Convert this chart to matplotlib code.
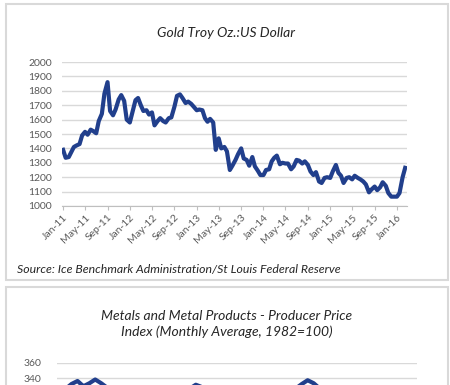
import matplotlib
matplotlib.use("Agg")
import matplotlib.pyplot as plt
import pandas as pd
from matplotlib.patches import Rectangle

plt.rcParams["font.family"] = ["Lato", "DejaVu Sans"]

# Gold price, semi-monthly readings (1st and 15th), Jan 2011 - Feb 2016
gold_dates = pd.date_range("2011-01-01", "2016-02-15", freq="SMS")
gold_values = [
    1390, 1335, 1340, 1375, 1410, 1420, 1430, 1490, 1515, 1495, 1530, 1520,
    1505, 1590, 1640, 1780, 1860, 1660, 1630, 1670, 1740, 1770, 1730, 1600,
    1580, 1650, 1735, 1750, 1700, 1660, 1665, 1635, 1650, 1560, 1590, 1610,
    1590, 1580, 1610, 1615, 1690, 1765, 1775, 1750, 1715, 1725, 1710, 1690,
    1665, 1670, 1665, 1610, 1585, 1605, 1580, 1390, 1470, 1400, 1410, 1380,
    1250, 1280, 1320, 1360, 1400, 1330, 1320, 1280, 1340, 1275, 1245, 1215,
    1215, 1250, 1255, 1310, 1335, 1350, 1290, 1300, 1295, 1295, 1255, 1275,
    1320, 1315, 1295, 1310, 1285, 1240, 1215, 1235, 1170, 1160, 1195, 1200,
    1195, 1240, 1285, 1230, 1210, 1160, 1195, 1200, 1185, 1210, 1195, 1185,
    1170, 1150, 1095, 1115, 1135, 1110, 1130, 1165, 1140, 1090, 1065, 1065,
    1065, 1090, 1200, 1265,
]
gold_tick_dates = pd.date_range("2011-01-01", "2016-01-01", freq="4MS")
gold_tick_labels = [d.strftime("%b-%y") for d in gold_tick_dates]
gold_yticks = list(range(1000, 2001, 100))

# Metals and metal products PPI, monthly, Jan 2011 - Jan 2016 (only the top is visible)
ppi_dates = pd.date_range("2011-01-01", "2016-01-01", freq="MS")
ppi_values = [
    318, 326, 332, 336, 329, 333, 338, 333, 327, 318, 314, 312,
    318, 322, 324, 322, 318, 312, 310, 312, 320, 324, 326, 331,
    328, 326, 320, 314, 310, 309, 306, 310, 308, 307, 305, 306,
    310, 314, 318, 322, 326, 332, 337, 333, 326, 320, 316, 310,
    302, 296, 292, 290, 292, 288, 284, 280, 276, 274, 270, 266,
    266,
]
ppi_yticks = [340, 360]  # the lower ticks fall below the cut

line_color = "#213f8c"
grid_color = "#d9d9d9"
label_color = "#595959"
text_color = "#262626"

fig = plt.figure(figsize=(4.5, 3.85), dpi=100)

# panel frames
fig.patches.append(Rectangle((6 / 450, 1 - 280 / 385), 442 / 450, 276 / 385,
                             transform=fig.transFigure, fill=False,
                             edgecolor=grid_color, lw=1.5))
fig.patches.append(Rectangle((6 / 450, -0.2), 442 / 450, 0.2 + 1 - 287 / 385,
                             transform=fig.transFigure, fill=False,
                             edgecolor=grid_color, lw=1.5))

# --- gold chart ---
ax = fig.add_axes([62 / 450, 1 - 206 / 385, 345 / 450, 144 / 385])
ax.plot(gold_dates, gold_values, color=line_color, lw=3, solid_joinstyle="round")
ax.set_ylim(1000, 2000)
ax.set_yticks(gold_yticks)
ax.set_xlim(pd.Timestamp("2010-12-26"), pd.Timestamp("2016-02-25"))
ax.set_xticks(gold_tick_dates)
ax.set_xticklabels(gold_tick_labels, rotation=45, ha="right", va="top",
                   rotation_mode="anchor")
ax.grid(axis="y", color=grid_color, lw=1)
ax.set_axisbelow(True)
for s in ["top", "right", "left"]:
    ax.spines[s].set_visible(False)
ax.spines["bottom"].set_color("#bfbfbf")
ax.tick_params(axis="y", length=0, pad=7, labelsize=7.5, labelcolor=label_color)
ax.tick_params(axis="x", length=3, color="#bfbfbf", pad=2, labelsize=7.5,
               labelcolor=label_color)
fig.text(226 / 450, 1 - 33 / 385, "Gold Troy Oz.:US Dollar", ha="center", va="center",
         fontsize=10, style="italic", color=text_color)
fig.text(17 / 450, 1 - 270 / 385,
         "Source: Ice Benchmark Administration/St Louis Federal Reserve",
         ha="left", va="center", fontsize=8.8, style="italic", color=text_color)

# --- PPI chart (cut off by the bottom edge) ---
ax2 = fig.add_axes([57 / 450, 1 - 453 / 385, 360 / 450, 90 / 385])
ax2.plot(ppi_dates, ppi_values, color=line_color, lw=3, solid_joinstyle="round")
ax2.set_ylim(240, 360)
ax2.set_yticks(ppi_yticks)
ax2.set_xlim(pd.Timestamp("2010-12-16"), pd.Timestamp("2016-01-16"))
ax2.grid(axis="y", color=grid_color, lw=1)
ax2.set_axisbelow(True)
for s in ["top", "right", "left", "bottom"]:
    ax2.spines[s].set_visible(False)
ax2.tick_params(axis="y", length=0, pad=11, labelsize=7.5, labelcolor=label_color)
ax2.set_xticks([])
fig.text(227 / 450, 1 - 324 / 385,
         "Metals and Metal Products - Producer Price\nIndex (Monthly Average, 1982=100)",
         ha="center", va="center", fontsize=10, style="italic", color=text_color,
         linespacing=1.35)

fig.savefig("out.png", dpi=100)
